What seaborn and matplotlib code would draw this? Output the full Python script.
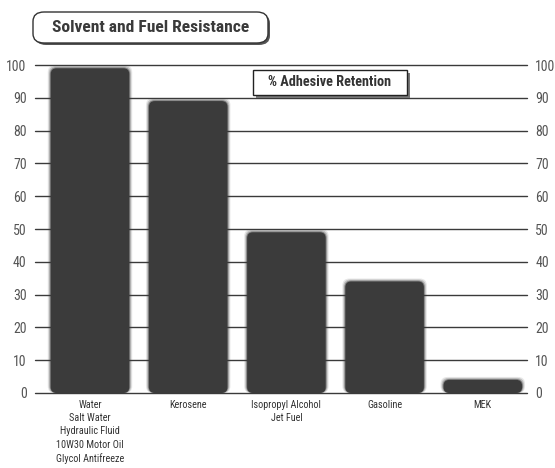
import pandas as pd
import matplotlib
matplotlib.use("Agg")
import matplotlib.pyplot as plt
import matplotlib.patheffects as pe
import seaborn as sns
from matplotlib import font_manager as fm
from matplotlib.patches import FancyBboxPatch

# chart data
categories = [
    "Water\nSalt Water\nHydraulic Fluid\n10W30 Motor Oil\nGlycol Antifreeze",
    "Kerosene",
    "Isopropyl Alcohol\nJet Fuel",
    "Gasoline",
    "MEK",
]
retention = [99, 89, 49, 34, 4]
y_ticks = [0, 10, 20, 30, 40, 50, 60, 70, 80, 90, 100]

df = pd.DataFrame({"fluid": categories, "retention": retention})

# the original uses a condensed grotesque; take the first narrow family that has
# static regular + bold files
wanted = ["Liberation Sans Narrow", "Arial Narrow", "Roboto Condensed",
          "IBM Plex Sans Condensed", "Barlow Semi Condensed", "PT Sans Narrow",
          "Fira Sans Condensed", "Encode Sans Condensed", "Open Sans Condensed",
          "Saira SemiCondensed", "Sofia Sans Condensed"]
files = {}
for f in fm.fontManager.ttflist:
    fn = f.fname.split("/")[-1].lower()
    if f.style != "normal" or "italic" in fn:
        continue
    try:
        w = int(f.weight)
    except (TypeError, ValueError):
        w = {"normal": 400, "regular": 400, "bold": 700}.get(str(f.weight), 0)
    d = files.setdefault(f.name, {})
    if w == 400:
        d.setdefault("reg", f.fname)
    if w == 700 and "[" not in fn:
        d.setdefault("bold", f.fname)

reg_file = bold_file = None
for nm in wanted:
    d = files.get(nm, {})
    if "reg" in d and "bold" in d:
        reg_file, bold_file = d["reg"], d["bold"]
        break
if reg_file is None:
    for nm in wanted:
        if "reg" in files.get(nm, {}):
            reg_file = files[nm]["reg"]
            break

sns.set_style("white")
plt.rcParams["font.family"] = ["Liberation Sans", "DejaVu Sans"]

fp_narrow = fm.FontProperties(fname=reg_file) if reg_file else fm.FontProperties(family="Liberation Sans")
bold_fx = []
if bold_file:
    fp_bold = fm.FontProperties(fname=bold_file)
elif reg_file:
    fp_bold = fm.FontProperties(fname=reg_file)
    bold_fx = [pe.withStroke(linewidth=0.7, foreground="#333333")]
else:
    fp_bold = fm.FontProperties(family="Liberation Sans", weight="bold")

fig = plt.figure(figsize=(5.55, 4.68), dpi=100)
ax = fig.add_axes([35 / 555, 75 / 468, 492 / 555, 328 / 468])

bar_color = "#3b3b3b"
sns.barplot(data=df, x="fluid", y="retention", color=bar_color, width=0.8,
            saturation=1, ax=ax, zorder=3)

# swap the flat bars for soft rounded ones
aspect = 29.95
for p in list(ax.patches):
    x, y, w, h = p.get_x(), p.get_y(), p.get_width(), p.get_height()
    p.remove()
    for grow, alpha in [(0.03, 0.12), (0.02, 0.22), (0.01, 0.45)]:
        ax.add_patch(FancyBboxPatch((x - grow, y), w + 2 * grow, h + grow * aspect,
                                    boxstyle="round,pad=0,rounding_size=0.07",
                                    mutation_aspect=aspect, fc=bar_color,
                                    ec="none", alpha=alpha, zorder=3))
    ax.add_patch(FancyBboxPatch((x, y), w, h,
                                boxstyle="round,pad=0,rounding_size=0.06",
                                mutation_aspect=aspect, fc=bar_color,
                                ec="none", zorder=4))

ax.set_xlim(-0.56, 4.45)
ax.set_ylim(0, 100)
ax.set_yticks(y_ticks)
for t in y_ticks:
    ax.axhline(t, color="#3a3a3a", lw=1.0, zorder=1, clip_on=False)

for s in ax.spines.values():
    s.set_visible(False)
ax.set_xlabel("")
ax.set_ylabel("")
ax.tick_params(axis="y", length=0, labelright=True, labelcolor="#555555", pad=6)
ax.tick_params(axis="x", length=0, labelcolor="#333333", pad=5)
for tick in ax.yaxis.get_major_ticks():
    for lbl in (tick.label1, tick.label2):
        lbl.set_fontproperties(fp_narrow)
        lbl.set_fontsize(10)
for lbl in ax.get_xticklabels():
    lbl.set_fontproperties(fp_narrow)
    lbl.set_fontsize(7.3)
    lbl.set_linespacing(1.4)
    lbl.set_verticalalignment("top")

# title box with shadow
fig.patches.append(FancyBboxPatch((35 / 555, 423 / 468), 235 / 555, 31 / 468,
                                  boxstyle="round,pad=0,rounding_size=0.02",
                                  transform=fig.transFigure, fc="#555555",
                                  ec="none", zorder=1))
fig.patches.append(FancyBboxPatch((33 / 555, 425 / 468), 235 / 555, 31 / 468,
                                  boxstyle="round,pad=0,rounding_size=0.02",
                                  transform=fig.transFigure, fc="white",
                                  ec="#333333", lw=1.0, zorder=2))
fig.text(151 / 555, 440.5 / 468, "Solvent and Fuel Resistance", ha="center",
         va="center", fontproperties=fp_bold, fontsize=12.6, color="#3a3a3a",
         zorder=3, path_effects=bold_fx)

# label box with shadow, drawn above the axes
fig.patches.append(FancyBboxPatch((256 / 555, 370 / 468), 154 / 555, 25 / 468,
                                  boxstyle="square,pad=0",
                                  transform=fig.transFigure, fc="#777777",
                                  ec="none", zorder=5))
fig.patches.append(FancyBboxPatch((253 / 555, 373 / 468), 154 / 555, 25 / 468,
                                  boxstyle="square,pad=0",
                                  transform=fig.transFigure, fc="white",
                                  ec="#222222", lw=1.0, zorder=6))
fig.text(330 / 555, 385.5 / 468, "% Adhesive Retention", ha="center",
         va="center", fontproperties=fp_bold, fontsize=10.3, color="#333333",
         zorder=7, path_effects=bold_fx)

fig.savefig("out.png", dpi=100)
